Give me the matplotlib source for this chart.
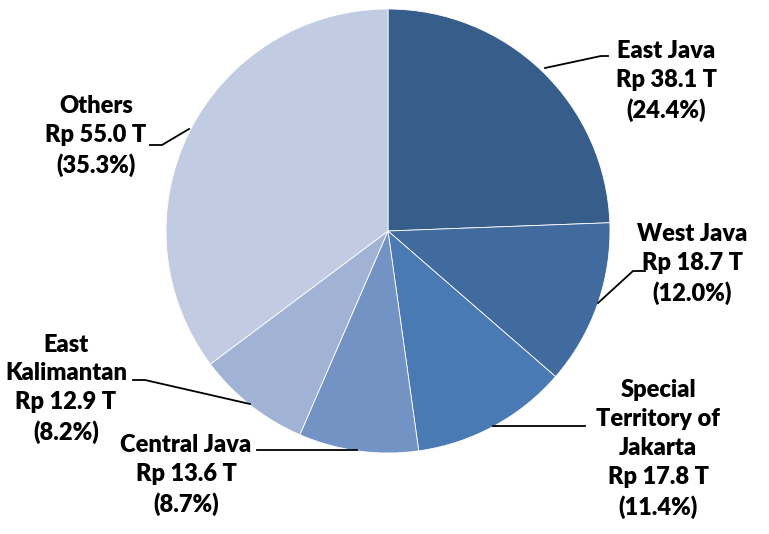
import matplotlib.pyplot as plt

# data
regions = ['East Java', 'West Java', 'Special\nTerritory of\nJakarta',
           'Central Java', 'East\nKalimantan', 'Others']
values = [38.1, 18.7, 17.8, 13.6, 12.9, 55.0]
shares = [24.4, 12.0, 11.4, 8.7, 8.2, 35.3]
colors = ['#375d8a', '#416b9e', '#4a7ab3', '#7293c4', '#a0b3d5', '#c1cce2']

W, H = 769, 534
fig = plt.figure(figsize=(W / 100, H / 100), dpi=100)
ax = fig.add_axes([0, 0, 1, 1])

# pie in pixel coords (y flipped)
cx, cy, r = 388, H - 231, 222
ax.pie(values, colors=colors, startangle=90, counterclock=False,
       center=(cx, cy), radius=r, frame=True,
       wedgeprops=dict(edgecolor='white', linewidth=0.6))
ax.set_xlim(0, W)
ax.set_ylim(0, H)
ax.axis('off')

# label positions (x, y-top-down) and leader lines
label_pos = [(666, 81), (692, 264), (658, 449), (186, 475), (66, 389), (96, 136)]
leaders = [
    [(545, 68), (601, 56), (608, 56)],
    [(598, 303), (633, 271), (645, 271)],
    [(493, 426), (585, 426)],
    [(357, 450), (257, 450)],
    [(250, 404), (145, 380), (133, 380)],
    [(189, 129), (162, 145), (150, 145)],
]

for name, v, s, (lx, ly), pts in zip(regions, values, shares, label_pos, leaders):
    ax.text(lx, H - ly, f'{name}\nRp {v:.1f} T\n({s:.1f}%)', ha='center', va='center',
            fontsize=17, fontweight='heavy', family='Lato', linespacing=1.38,
            color='black')
    ax.plot([p[0] for p in pts], [H - p[1] for p in pts], color='black', lw=1.3)

fig.savefig('out.png', dpi=100)
